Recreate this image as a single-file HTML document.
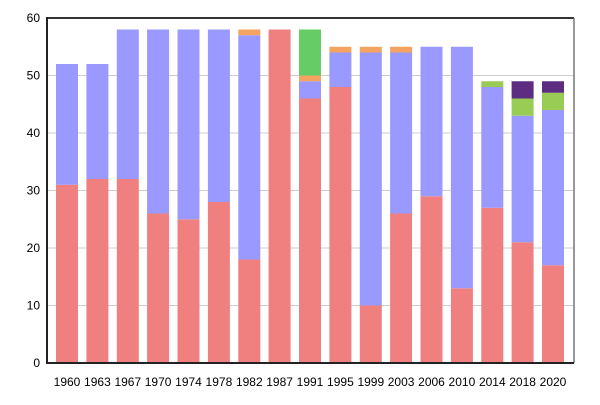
<!DOCTYPE html><html><head><style>body{margin:0;background:#fff}text{font-family:"Liberation Sans",sans-serif;font-size:12px;fill:#000}</style></head><body>
<svg width="600" height="400" xmlns="http://www.w3.org/2000/svg">
<g stroke="#ccc" stroke-width="1">
<line x1="48" x2="574" y1="305.5" y2="305.5"/><line x1="48" x2="574" y1="248" y2="248"/><line x1="48" x2="574" y1="190.5" y2="190.5"/><line x1="48" x2="574" y1="133" y2="133"/><line x1="48" x2="574" y1="75.5" y2="75.5"/>
</g>
<g fill="#f08080">
<rect x="56" y="184.75" width="22" height="178.25"/><rect x="86.4" y="179" width="22" height="184"/><rect x="116.8" y="179" width="22" height="184"/><rect x="147.1" y="213.5" width="22" height="149.5"/><rect x="177.5" y="219.25" width="22" height="143.75"/><rect x="207.9" y="202" width="22" height="161"/><rect x="238.3" y="259.5" width="22" height="103.5"/><rect x="268.6" y="29.5" width="22" height="333.5"/><rect x="299" y="98.5" width="22" height="264.5"/><rect x="329.4" y="87" width="22" height="276"/><rect x="359.8" y="305.5" width="22" height="57.5"/><rect x="390.1" y="213.5" width="22" height="149.5"/><rect x="420.5" y="196.25" width="22" height="166.75"/><rect x="450.9" y="288.25" width="22" height="74.75"/><rect x="481.3" y="207.75" width="22" height="155.25"/><rect x="511.6" y="242.25" width="22" height="120.75"/><rect x="542" y="265.25" width="22" height="97.75"/>
</g>
<g fill="#9999ff">
<rect x="56" y="64" width="22" height="120.75"/><rect x="86.4" y="64" width="22" height="115"/><rect x="116.8" y="29.5" width="22" height="149.5"/><rect x="147.1" y="29.5" width="22" height="184"/><rect x="177.5" y="29.5" width="22" height="189.75"/><rect x="207.9" y="29.5" width="22" height="172.5"/><rect x="238.3" y="35.25" width="22" height="224.25"/><rect x="299" y="81.25" width="22" height="17.25"/><rect x="329.4" y="52.5" width="22" height="34.5"/><rect x="359.8" y="52.5" width="22" height="253"/><rect x="390.1" y="52.5" width="22" height="161"/><rect x="420.5" y="46.75" width="22" height="149.5"/><rect x="450.9" y="46.75" width="22" height="241.5"/><rect x="481.3" y="87" width="22" height="120.75"/><rect x="511.6" y="115.75" width="22" height="126.5"/><rect x="542" y="110" width="22" height="155.25"/>
</g>
<g fill="#f4a460">
<rect x="238.3" y="29.5" width="22" height="5.75"/><rect x="299" y="75.5" width="22" height="5.75"/><rect x="329.4" y="46.75" width="22" height="5.75"/><rect x="359.8" y="46.75" width="22" height="5.75"/><rect x="390.1" y="46.75" width="22" height="5.75"/>
</g>
<rect x="299" y="29.5" width="22" height="46" fill="#66cc66"/>
<g fill="#99cc55"><rect x="481.3" y="81.25" width="22" height="5.75"/><rect x="511.6" y="98.5" width="22" height="17.25"/><rect x="542" y="92.75" width="22" height="17.25"/></g>
<g fill="#5c2d80"><rect x="511.6" y="81.25" width="22" height="17.25"/><rect x="542" y="81.25" width="22" height="11.5"/></g>
<line x1="48" x2="574" y1="18" y2="18" stroke="#333" stroke-width="2"/>
<line x1="574" x2="574" y1="18" y2="363" stroke="#777" stroke-width="1.5"/>
<line x1="47" x2="47" y1="17" y2="364" stroke="#222" stroke-width="2"/>
<line x1="46" x2="574" y1="363" y2="363" stroke="#222" stroke-width="2"/>
<g text-anchor="end"><text x="40" y="367">0</text><text x="40" y="309.5">10</text><text x="40" y="252">20</text><text x="40" y="194.5">30</text><text x="40" y="137">40</text><text x="40" y="79.5">50</text><text x="40" y="22">60</text></g>
<g text-anchor="middle">
<text x="67" y="386">1960</text><text x="97.4" y="386">1963</text><text x="127.8" y="386">1967</text><text x="158.1" y="386">1970</text><text x="188.5" y="386">1974</text><text x="218.9" y="386">1978</text><text x="249.3" y="386">1982</text><text x="279.6" y="386">1987</text><text x="310" y="386">1991</text><text x="340.4" y="386">1995</text><text x="370.8" y="386">1999</text><text x="401.1" y="386">2003</text><text x="431.5" y="386">2006</text><text x="461.9" y="386">2010</text><text x="492.3" y="386">2014</text><text x="522.6" y="386">2018</text><text x="553" y="386">2020</text>
</g>
</svg></body></html>
